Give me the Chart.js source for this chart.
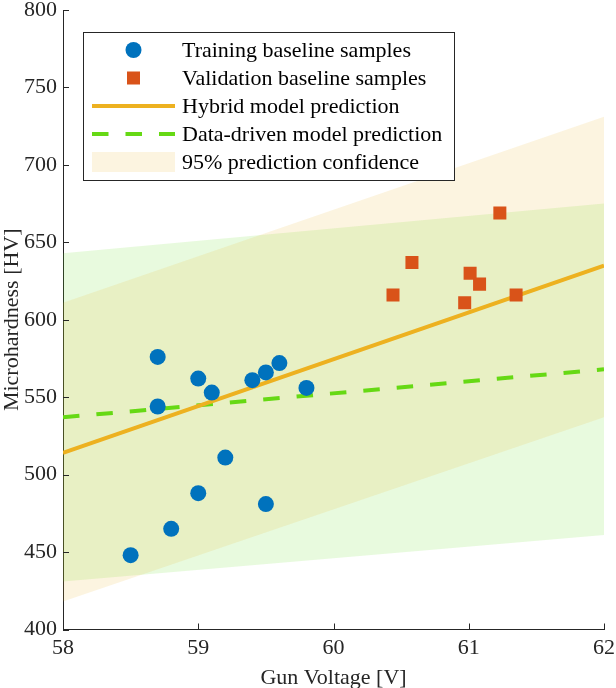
<!DOCTYPE html>
<html>
<head>
<meta charset="utf-8">
<script src="https://cdn.jsdelivr.net/npm/chart.js@4.4.1/dist/chart.umd.min.js"></script>
<style>
html,body{margin:0;padding:0;background:#fff;}
#wrap{width:616px;height:688px;}
</style>
</head>
<body>
<div id="wrap"><canvas id="c" width="616" height="688"></canvas></div>
<script>
// ---- data ----
const trainX = [58.5, 58.7, 58.7, 58.8, 59.0, 59.0, 59.1, 59.2, 59.4, 59.5, 59.5, 59.6, 59.8];
const trainY = [448, 576, 544, 465, 562, 488, 553, 511, 561, 566, 481, 572, 556];
const valX = [60.44, 60.58, 60.97, 61.01, 61.08, 61.23, 61.35];
const valY = [616, 637, 611, 630, 623, 669, 616];
const lineX = [58, 62];
const hybridY = [514, 635];
const dataDrivenY = [537, 568];
const hybridUpper = [611, 731];
const hybridLower = [418, 537];
const ddUpper = [643, 675];
const ddLower = [431, 461];
const xTicks = [58, 59, 60, 61, 62];
const yTicks = [400, 450, 500, 550, 600, 650, 700, 750, 800];
const legendLabels = ['Training baseline samples', 'Validation baseline samples', 'Hybrid model prediction', 'Data-driven model prediction', '95% prediction confidence'];

const BLUE = '#0072BD', RED = '#D95319', YEL = '#EDB120', GRN = '#66D914';
const ORANGE_FILL = 'rgba(237,177,32,0.14)';
const GREEN_FILL = 'rgba(102,221,34,0.15)';
const AX = '#262626';
const FONT = "'Liberation Serif', 'Times New Roman', serif";
const FS = 22;

const pts = (xs, ys) => xs.map((x, i) => ({x, y: ys[i]}));

const tickPlugin = {
  id: 'inTicks',
  afterDraw(chart) {
    const ctx = chart.ctx, xs = chart.scales.x, ys = chart.scales.y, a = chart.chartArea;
    ctx.save();
    ctx.strokeStyle = AX; ctx.lineWidth = 1;
    ctx.beginPath();
    xTicks.forEach(v => { const p = Math.round(xs.getPixelForValue(v)) + 0.5; ctx.moveTo(p, a.bottom); ctx.lineTo(p, a.bottom - 6); });
    yTicks.forEach(v => { const p = Math.round(ys.getPixelForValue(v)) + 0.5; ctx.moveTo(a.left, p); ctx.lineTo(a.left + 6, p); });
    ctx.stroke();
    ctx.restore();
  }
};

const legendPlugin = {
  id: 'boxLegend',
  afterDraw(chart) {
    const ctx = chart.ctx;
    const bx = 83.5, by = 32.5, bw = 371, bh = 148;
    ctx.save();
    ctx.fillStyle = '#fff';
    ctx.fillRect(bx, by, bw, bh);
    ctx.strokeStyle = AX; ctx.lineWidth = 1;
    ctx.strokeRect(bx, by, bw, bh);
    const rows = [50, 78, 106, 134, 162];
    const sx0 = 92, sx1 = 175, cx = 133.5;
    ctx.fillStyle = BLUE;
    ctx.beginPath(); ctx.arc(cx, rows[0], 8, 0, Math.PI * 2); ctx.fill();
    ctx.fillStyle = RED;
    ctx.fillRect(cx - 6.5, rows[1] - 6.5, 13, 13);
    ctx.strokeStyle = YEL; ctx.lineWidth = 4;
    ctx.beginPath(); ctx.moveTo(sx0, rows[2]); ctx.lineTo(sx1, rows[2]); ctx.stroke();
    ctx.strokeStyle = GRN; ctx.setLineDash([16.5, 17]);
    ctx.beginPath(); ctx.moveTo(sx0, rows[3]); ctx.lineTo(sx1, rows[3]); ctx.stroke();
    ctx.setLineDash([]);
    ctx.fillStyle = ORANGE_FILL;
    ctx.fillRect(sx0, rows[4] - 10, sx1 - sx0, 20);
    ctx.fillStyle = '#000';
    ctx.font = FS + 'px ' + FONT;
    ctx.textBaseline = 'middle';
    ctx.textAlign = 'left';
    legendLabels.forEach((t, i) => ctx.fillText(t, 182, rows[i] + 1));
    ctx.restore();
  }
};

new Chart(document.getElementById('c'), {
  type: 'scatter',
  data: {
    datasets: [
      { label: legendLabels[0], data: pts(trainX, trainY), pointStyle: 'circle', pointRadius: 8, pointHoverRadius: 8,
        backgroundColor: BLUE, borderColor: BLUE, borderWidth: 0 },
      { label: legendLabels[1], data: pts(valX, valY), pointStyle: 'rect', pointRadius: 9.2, pointHoverRadius: 9.2,
        backgroundColor: RED, borderColor: RED, borderWidth: 0 },
      { label: legendLabels[2], data: pts(lineX, hybridY), showLine: true, pointRadius: 0, borderColor: YEL, borderWidth: 4, fill: false },
      { label: legendLabels[3], data: pts(lineX, dataDrivenY), showLine: true, pointRadius: 0, borderColor: GRN, borderWidth: 4, borderDash: [16.5, 17], fill: false },
      { label: 'hl', data: pts(lineX, hybridLower), showLine: true, pointRadius: 0, borderWidth: 0, borderColor: 'rgba(0,0,0,0)', fill: false },
      { label: 'hu', data: pts(lineX, hybridUpper), showLine: true, pointRadius: 0, borderWidth: 0, borderColor: 'rgba(0,0,0,0)', backgroundColor: ORANGE_FILL, fill: '-1' },
      { label: 'dl', data: pts(lineX, ddLower), showLine: true, pointRadius: 0, borderWidth: 0, borderColor: 'rgba(0,0,0,0)', fill: false },
      { label: 'du', data: pts(lineX, ddUpper), showLine: true, pointRadius: 0, borderWidth: 0, borderColor: 'rgba(0,0,0,0)', backgroundColor: GREEN_FILL, fill: '-1' }
    ]
  },
  options: {
    responsive: false,
    animation: false,
    events: [],
    layout: { padding: 0 },
    plugins: { legend: { display: false }, tooltip: { enabled: false } },
    scales: {
      x: {
        type: 'linear', min: 58, max: 62,
        afterBuildTicks: s => { s.ticks = xTicks.map(v => ({value: v})); },
        afterFit: s => { s.height = 58.5; s.paddingLeft = 0; s.paddingRight = 12; },
        grid: { display: true, drawOnChartArea: false, drawTicks: false },
        border: { display: true, color: AX, width: 1 },
        ticks: { color: AX, font: { family: FONT, size: FS }, padding: 6 },
        title: { display: true, text: 'Gun Voltage [V]', color: AX, font: { family: FONT, size: FS }, padding: { top: 0, bottom: -3 } }
      },
      y: {
        type: 'linear', min: 400, max: 800,
        afterBuildTicks: s => { s.ticks = yTicks.map(v => ({value: v})); },
        afterFit: s => { s.width = 63; s.paddingTop = 10; s.paddingBottom = 0; },
        grid: { display: true, drawOnChartArea: false, drawTicks: false },
        border: { display: true, color: AX, width: 1 },
        ticks: { color: AX, font: { family: FONT, size: FS }, padding: 6 },
        title: { display: true, text: 'Microhardness [HV]', color: AX, font: { family: FONT, size: FS }, padding: { top: -1, bottom: 0 } }
      }
    }
  },
  plugins: [tickPlugin, legendPlugin]
});
</script>
</body>
</html>
